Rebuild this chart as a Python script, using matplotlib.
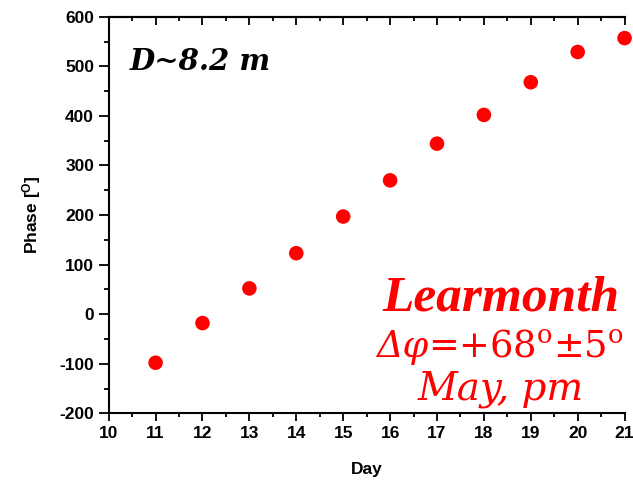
import matplotlib
matplotlib.use('Agg')
import matplotlib.pyplot as plt
from matplotlib.ticker import MultipleLocator

# data
days = [11, 12, 13, 14, 15, 16, 17, 18, 19, 20, 21]
phase = [-98, -18, 52, 123, 197, 270, 344, 402, 468, 529, 557]

plt.rcParams['font.family'] = ['Liberation Sans', 'DejaVu Sans']
plt.rcParams['axes.unicode_minus'] = False
plt.rcParams['mathtext.fontset'] = 'custom'
plt.rcParams['mathtext.rm'] = 'DejaVu Serif'
plt.rcParams['mathtext.it'] = 'DejaVu Serif:italic'
plt.rcParams['mathtext.bf'] = 'Liberation Sans:bold'

fig = plt.figure(figsize=(6.33, 4.8), dpi=100)
ax = fig.add_axes([0.1717, 0.139, 0.815, 0.826])

ax.scatter(days, phase, s=110, color='#ff0000', edgecolors='none', zorder=3,
           clip_on=False)

ax.set_xlim(10, 21)
ax.set_ylim(-200, 600)
ax.xaxis.set_major_locator(MultipleLocator(1))
ax.xaxis.set_minor_locator(MultipleLocator(0.5))
ax.yaxis.set_major_locator(MultipleLocator(100))
ax.yaxis.set_minor_locator(MultipleLocator(50))

ax.spines['right'].set_visible(False)
for s in ['left', 'bottom', 'top']:
    ax.spines[s].set_linewidth(1.5)

ax.tick_params(which='major', direction='out', length=6, width=1.3,
               labelsize=12.5)
ax.tick_params(which='minor', direction='out', length=3, width=1.3)
ax.tick_params(axis='y', which='major', length=7)
ax.tick_params(axis='y', which='minor', length=3.5)
for lab in ax.get_xticklabels() + ax.get_yticklabels():
    lab.set_fontweight('bold')

top = ax.secondary_xaxis('top')
top.xaxis.set_major_locator(MultipleLocator(1))
top.xaxis.set_minor_locator(MultipleLocator(0.5))
top.tick_params(which='major', direction='in', length=6, width=1.3,
                labeltop=False)
top.tick_params(which='minor', direction='in', length=3, width=1.3)
top.spines['top'].set_linewidth(1.5)

ax.set_xlabel('Day', fontsize=12.5, fontweight='bold', labelpad=15)
ax.set_ylabel(r'Phase [$^{\mathbf{O}}$]', fontsize=12.5, fontweight='bold',
              labelpad=12)

ax.text(0.041, 0.866, 'D~8.2 m', transform=ax.transAxes, fontsize=21,
        family='DejaVu Serif', style='italic', fontweight='bold',
        va='baseline', ha='left')

red = '#ff0000'
ax.text(0.76, 0.26, 'Learmonth', transform=ax.transAxes, fontsize=37,
        family='Liberation Serif', style='italic', fontweight='bold',
        color=red, ha='center', va='baseline')
# italic delta-phi, upright rest of the line
ax.text(0.619, 0.142, 'Δφ', transform=ax.transAxes, fontsize=26.5,
        family='DejaVu Serif', style='italic', color=red,
        ha='right', va='baseline')
ax.text(0.619, 0.142, r'=+68$^{\mathrm{o}}$±5$^{\mathrm{o}}$',
        transform=ax.transAxes, fontsize=26.5, family='DejaVu Serif',
        color=red, ha='left', va='baseline')
ax.text(0.76, 0.034, 'May, pm', transform=ax.transAxes, fontsize=28,
        family='DejaVu Serif', style='italic', color=red,
        ha='center', va='baseline')

fig.savefig('out.png', dpi=100)
